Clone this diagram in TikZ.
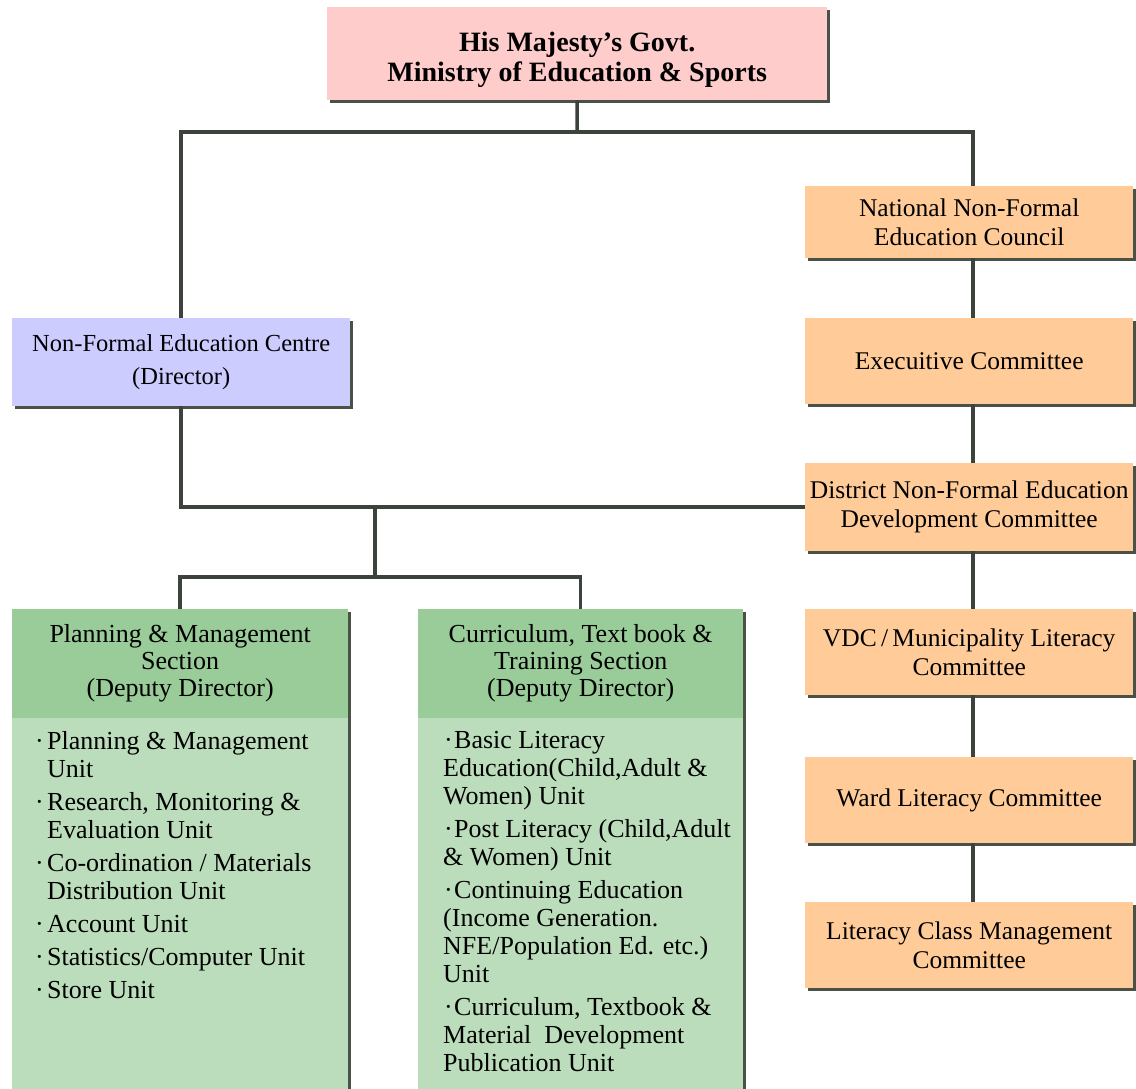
\documentclass[tikz,border=0pt]{standalone}
\usepackage{fontspec}
\setmainfont{Liberation Serif}
\usetikzlibrary{shadows}

\definecolor{govpink}{HTML}{FFCCCC}
\definecolor{centreblue}{HTML}{CCCCFF}
\definecolor{councilorange}{HTML}{FFCC99}
\definecolor{sectiongreen}{HTML}{99CC99}
\definecolor{unitgreen}{HTML}{BBDDBB}
\definecolor{shadowgray}{HTML}{4A5248}
\definecolor{linkgray}{HTML}{3C423C}

\newlength{\unithang}
\newlength{\unitbullet}
\newcommand{\unititem}[1]{\par\noindent\hangindent=\unithang\hangafter=1%
    \makebox[\unitbullet][l]{\hspace{1pt}·}#1}
\newcommand{\unitlist}[2]{\parbox[c][372pt][t]{#1}{\rightskip=0pt plus 1fil
    \parskip=5pt\hbadness=10000\vspace*{4pt}#2}}

\begin{document}
\begin{tikzpicture}[x=1pt,y=-1pt,
    box/.style={rectangle,inner sep=0pt,align=center,anchor=north west,
        font=\fontsize{24.5}{33}\selectfont,
        drop shadow={shadow xshift=3pt,shadow yshift=-3pt,fill=shadowgray,opacity=1}},
    gov/.style={box,fill=govpink,font=\bfseries\fontsize{28}{30}\selectfont},
    centre/.style={box,fill=centreblue},
    council/.style={box,fill=councilorange,minimum width=328,font=\fontsize{25.5}{29}\selectfont},
    section/.style={box,fill=sectiongreen,minimum width=336,minimum height=109,
        font=\fontsize{26}{27}\selectfont},
    units/.style={box,fill=unitgreen,minimum width=336,minimum height=380,
        inner ysep=0pt,font=\fontsize{26}{28}\selectfont},
    link/.style={draw=linkgray,line width=3.5pt},
]
\useasboundingbox (0,0) rectangle (1136,1089);

\coordinate (top bar) at (577,132);
\coordinate (spine) at (973,0);
\coordinate (split) at (375,505);
\coordinate (low bar) at (375,577);

%%%
% Ministry and the two branches
\node[gov,minimum width=500,minimum height=93] (gov) at (327,7)
    {\rule{0pt}{32pt}His Majesty's Govt.\\Ministry of Education \& Sports};
\node[centre,minimum width=338,minimum height=88] (nfe) at (12,318)
    {Non-Formal Education Centre\\(Director)};

%%%
% Council column
\node[council,minimum height=72] (nat) at (805,186) {National Non-Formal\\Education Council};
\node[council,minimum height=86] (exe) at (805,318) {Execuitive Committee};
\node[council,minimum height=88] (dist) at (805,463) {District Non-Formal Education\\Development Committee};
\node[council,minimum height=86] (vdc) at (805,609) {VDC\,/\,Municipality Literacy\\Committee};
\node[council,minimum height=86] (ward) at (805,757) {Ward Literacy Committee};
\node[council,minimum height=86] (lcmc) at (805,902) {Literacy Class Management\\Committee};

%%%
% Sections of the centre
\node[section] (pms) at (12,609) {Planning \& Management\\Section\\(Deputy Director)};
\node[units,inner xsep=22pt] (pmu) at (12,718) {%
    \setlength{\unithang}{13pt}\setlength{\unitbullet}{13pt}%
    \unitlist{292pt}{%
    \unititem{Planning \& Management\newline Unit}
    \unititem{Research, Monitoring \&\newline Evaluation Unit}
    \unititem{Co-ordination / Materials\newline Distribution Unit}
    \unititem{Account Unit}
    \unititem{Statistics/Computer Unit}
    \unititem{Store Unit}}};
\node[section,minimum width=325] (cts) at (418,609) {Curriculum, Text book \&\\Training Section\\(Deputy Director)};
\node[units,minimum width=325,inner xsep=25pt] (ctu) at (418,718) {%
    \setlength{\unithang}{0pt}\setlength{\unitbullet}{11pt}%
    \makebox[275pt][l]{\unitlist{300pt}{%
    \unititem{Basic Literacy\newline Education(Child,Adult \&\newline Women) Unit}
    \unititem{Post Literacy (Child,Adult\newline \& Women) Unit}
    \unititem{Continuing Education\newline (Income Generation.\newline NFE/Population Ed. etc.)\newline Unit}
    \unititem{Curriculum, Textbook \&\newline Material~ Development\newline Publication Unit}}}};

%%%
% Connectors
\draw[link] (gov.south) -- (top bar);
\draw[link] (nfe.north) |- (top bar) -| (spine |- nat.north);
\draw[link] (spine |- nat.south) -- (spine |- exe.north);
\draw[link] (spine |- exe.south) -- (spine |- dist.north);
\draw[link] (spine |- dist.south) -- (spine |- vdc.north);
\draw[link] (spine |- vdc.south) -- (spine |- ward.north);
\draw[link] (spine |- ward.south) -- (spine |- lcmc.north);
\draw[link] (nfe.south) |- (dist.west);
\draw[link] (split) -- (low bar);
\draw[link] (pms.north) |- (low bar) -| (cts.north);

\end{tikzpicture}
\end{document}
